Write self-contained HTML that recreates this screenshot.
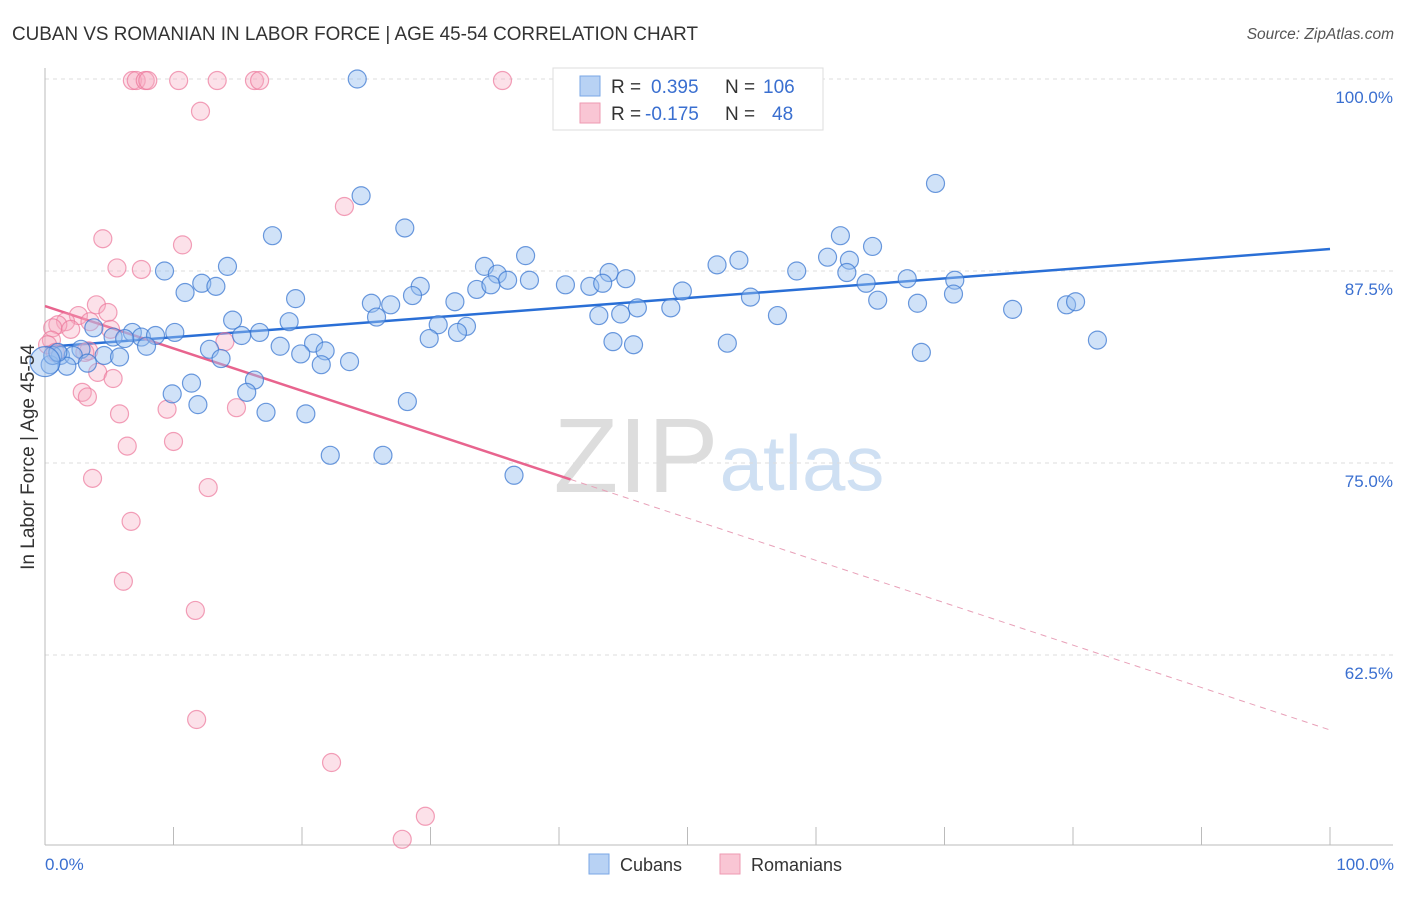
<!DOCTYPE html>
<html><head><meta charset="utf-8"><style>
body{margin:0;background:#fff;font-family:"Liberation Sans",sans-serif;}
svg text{font-family:"Liberation Sans",sans-serif;}
</style></head><body>
<svg id="chart" width="1406" height="892" viewBox="0 0 1406 892" xmlns="http://www.w3.org/2000/svg">
<text x="12" y="40" font-size="19" fill="#333" textLength="686" lengthAdjust="spacingAndGlyphs">CUBAN VS ROMANIAN IN LABOR FORCE | AGE 45-54 CORRELATION CHART</text>
<text x="1394" y="39" font-size="15.5" fill="#555" text-anchor="end" font-style="italic">Source: ZipAtlas.com</text>
<g>
<text x="636" y="492" font-size="106" fill="#ddd" text-anchor="middle" font-family="Liberation Serif,serif">ZIP</text>
<text x="802" y="490" font-size="78" fill="#cfe0f3" text-anchor="middle">atlas</text>
</g>
<g id="grid"></g>
<g id="axes"></g>
<g id="trends"></g>
<g id="points"></g>
<text transform="translate(34,457) rotate(-90)" font-size="19" fill="#333" text-anchor="middle">In Labor Force | Age 45-54</text>
<text x="45" y="870" font-size="17" fill="#3a6fd0">0.0%</text>
<text x="1394" y="870" font-size="17" fill="#3a6fd0" text-anchor="end">100.0%</text>
<g>
<rect x="553" y="68" width="270" height="62" fill="#fff" stroke="#ddd"/>
<rect x="580" y="76" width="20" height="20" fill="#b8d2f4" stroke="#7aa7e6"/>
<rect x="580" y="103" width="20" height="20" fill="#f9c6d4" stroke="#ee9ab2"/>
<text x="611" y="93" font-size="19" fill="#333">R =</text><text x="651" y="93" font-size="19" fill="#3a6fd0">0.395</text>
<text x="725" y="93" font-size="19" fill="#333">N =</text><text x="763" y="93" font-size="19" fill="#3a6fd0">106</text>
<text x="611" y="120" font-size="19" fill="#333">R =</text><text x="645" y="120" font-size="19" fill="#3a6fd0">-0.175</text>
<text x="725" y="120" font-size="19" fill="#333">N =</text><text x="772" y="120" font-size="19" fill="#3a6fd0">48</text>
</g>
<g>
<rect x="589" y="854" width="20" height="20" fill="#b8d2f4" stroke="#7aa7e6"/>
<text x="620" y="871" font-size="18" fill="#333">Cubans</text>
<rect x="720" y="854" width="20" height="20" fill="#f9c6d4" stroke="#ee9ab2"/>
<text x="751" y="871" font-size="18" fill="#333">Romanians</text>
</g>
</svg>
<script>
const yTicks=[100,87.5,75,62.5];
const yTickLabels=["100.0%","87.5%","75.0%","62.5%"];
const cubanX=[24.3,69.3,24.6,28.0,17.7,61.9,64.4,37.4,60.9,62.6,52.3,54.0,34.2,43.9,35.2,58.5,62.4,9.3,14.2,36.0,37.7,40.5,42.4,43.4,45.2,67.1,70.8,12.2,13.3,29.2,63.9,10.9,33.6,34.7,49.6,28.6,54.9,70.7,19.5,25.4,26.9,31.9,64.8,67.9,79.5,80.2,75.3,46.1,48.7,43.1,44.8,57.0,25.8,14.6,19.0,30.6,3.8,32.8,32.1,10.1,6.8,7.5,8.6,15.3,16.7,5.3,29.9,44.2,45.8,53.1,81.9,7.9,20.9,18.3,21.8,12.8,19.9,2.8,68.2,1.2,2.2,4.6,5.8,13.7,23.7,21.5,1.7,3.3,0.4,16.3,11.4,15.7,9.9,11.9,28.2,17.2,20.3,22.2,26.3,36.5,0.6,1.0,6.2,0.0];
const cubanY=[100,93.2,92.4,90.3,89.8,89.8,89.1,88.5,88.4,88.2,87.9,88.2,87.8,87.4,87.3,87.5,87.4,87.5,87.8,86.9,86.9,86.6,86.5,86.7,87.0,87.0,86.9,86.7,86.5,86.5,86.7,86.1,86.3,86.6,86.2,85.9,85.8,86.0,85.7,85.4,85.3,85.5,85.6,85.4,85.3,85.5,85.0,85.1,85.1,84.6,84.7,84.6,84.5,84.3,84.2,84.0,83.8,83.9,83.5,83.5,83.5,83.2,83.3,83.3,83.5,83.2,83.1,82.9,82.7,82.8,83.0,82.6,82.8,82.6,82.3,82.4,82.1,82.4,82.2,82.0,82.0,82.0,81.9,81.8,81.6,81.4,81.3,81.5,81.4,80.4,80.2,79.6,79.5,78.8,79.0,78.3,78.2,75.5,75.5,74.2,82.0,82.2,83.1,81.6];
const romX=[6.8,7.1,7.8,8.0,10.4,13.4,16.3,16.7,35.6,12.1,23.3,4.5,10.7,5.6,7.5,4.0,4.9,2.6,1.6,1.0,0.6,2.0,3.5,0.5,0.2,5.1,14.0,0.8,3.4,4.1,5.3,2.9,3.3,9.5,14.9,5.8,6.4,10.0,12.7,3.7,6.7,6.1,11.7,11.8,22.3,29.6,27.8,3.1];
const romY=[99.9,99.9,99.9,99.9,99.9,99.9,99.9,99.9,99.9,97.9,91.7,89.6,89.2,87.7,87.6,85.3,84.8,84.6,84.2,84.0,83.8,83.7,84.2,83.0,82.7,83.7,82.9,82.2,82.3,80.9,80.5,79.6,79.3,78.5,78.6,78.2,76.1,76.4,73.4,74.0,71.2,67.3,65.4,58.3,55.5,52.0,50.5,82.2];
const cubanTrend=[82.55,88.93];
const romTrend=[85.22,57.62];
const romSolidEnd=40.9;
const NS="http://www.w3.org/2000/svg";
const X0=45,X1=1330,Y0=845,Y1=79,YMIN=50.13,YMAX=100;
function sx(v){return X0+(v/100)*(X1-X0);}
function sy(v){return Y0-(v-YMIN)/(YMAX-YMIN)*(Y0-Y1);}
function mk(tag,attrs,parent){const e=document.createElementNS(NS,tag);for(const k in attrs)e.setAttribute(k,attrs[k]);parent.appendChild(e);return e;}
const grid=document.getElementById('grid'),axes=document.getElementById('axes'),tr=document.getElementById('trends'),pts=document.getElementById('points');
yTicks.forEach((t,i)=>{
 const l=mk('line',{x1:X0,x2:1393,y1:sy(t),y2:sy(t),stroke:'#ddd','stroke-dasharray':'4,4'},grid);
 
 
 const tx=mk('text',{x:1393,y:sy(t)+24,'font-size':17,fill:'#3a6fd0','text-anchor':'end'},grid);
 tx.textContent=yTickLabels[i];
 
 
});
const ya=mk('line',{x1:X0,x2:X0,y1:68,y2:Y0,stroke:'#bbb'},axes);


const xa=mk('line',{x1:X0,x2:1393,y1:Y0,y2:Y0,stroke:'#bbb'},axes);


for(let i=1;i<=10;i++){
 const t=mk('line',{x1:sx(i*10),x2:sx(i*10),y1:Y0,y2:827,stroke:'#bbb'},axes);
 
 
}
function dots(xs,ys,fill,stroke,name){
 xs.forEach((x,i)=>{
  const big=(name==='cuban-point'&&i===xs.length-1);
  const c=mk('circle',{cx:sx(x),cy:sy(ys[i]),r:big?15:9,fill:fill,stroke:stroke,'stroke-width':1.2},pts);
  
  
 });
}
dots(romX,romY,'rgba(247,170,192,0.35)','rgba(236,120,155,0.7)','romanian-point');
dots(cubanX,cubanY,'rgba(150,190,240,0.45)','rgba(60,120,210,0.75)','cuban-point');
const bl=mk('line',{x1:sx(0),y1:sy(cubanTrend[0]),x2:sx(100),y2:sy(cubanTrend[1]),stroke:'#2a6fd6','stroke-width':2.5},tr);


const rAt=x=>romTrend[0]+(romTrend[1]-romTrend[0])*x/100;
const rl=mk('line',{x1:sx(0),y1:sy(rAt(0)),x2:sx(romSolidEnd),y2:sy(rAt(romSolidEnd)),stroke:'#e8648e','stroke-width':2.5},tr);


const rd=mk('line',{x1:sx(romSolidEnd),y1:sy(rAt(romSolidEnd)),x2:sx(100),y2:sy(rAt(100)),stroke:'#e8a0b8','stroke-width':1,'stroke-dasharray':'6,5'},tr);


</script>
</body></html>
